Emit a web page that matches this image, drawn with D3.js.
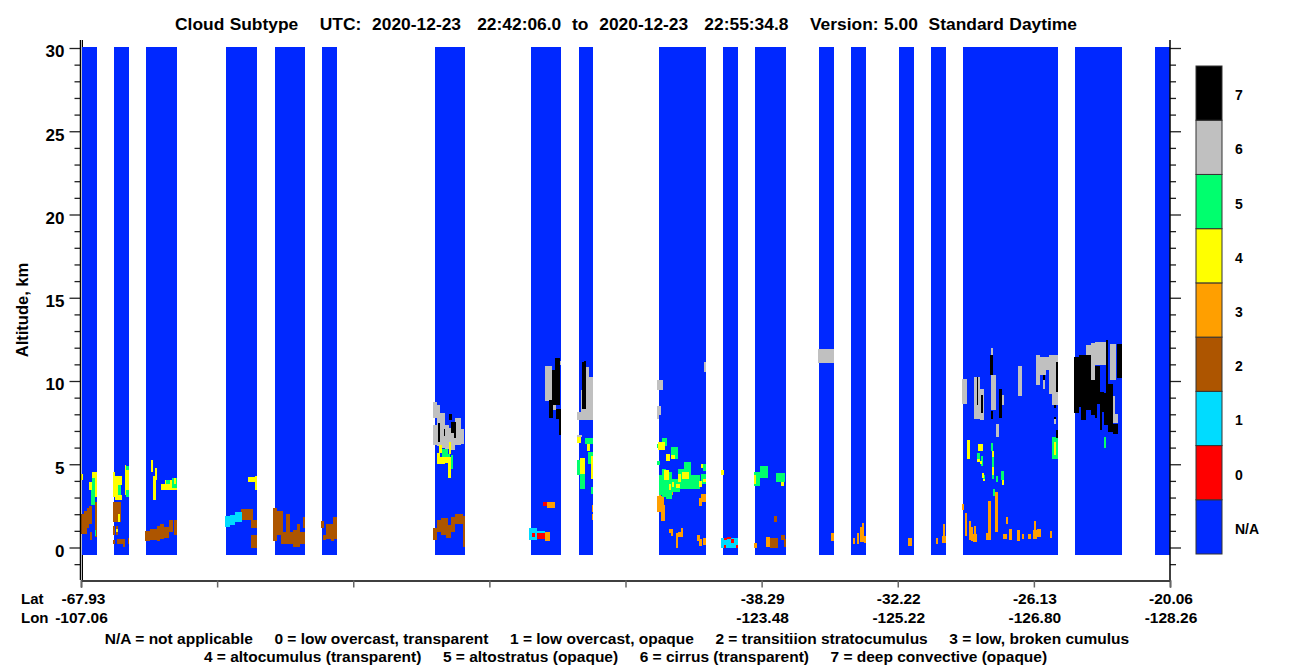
<!DOCTYPE html>
<html>
<head>
<meta charset="utf-8">
<script src="https://cdn.jsdelivr.net/npm/d3@7"></script>
<style>
  html, body { margin: 0; padding: 0; background: #fff; }
  svg { display: block; }
  text { font-family: "Liberation Sans", Arial, sans-serif; font-weight: bold; fill: #000; white-space: pre; }
</style>
</head>
<body>
<svg id="chart" width="1300" height="667"></svg>
<script>
// Title and footnotes
const titleText = "Cloud Subtype    UTC:  2020-12-23   22:42:06.0  to  2020-12-23   22:55:34.8    Version: 5.00  Standard Daytime";
const noteLine1 = "N/A = not applicable     0 = low overcast, transparent     1 = low overcast, opaque     2 = transitiion stratocumulus     3 = low, broken cumulus";
const noteLine2 = "4 = altocumulus (transparent)     5 = altostratus (opaque)     6 = cirrus (transparent)     7 = deep convective (opaque)";

// Bottom axis labels, one per tick (blank where the plot has none)
const latLabels = ["-67.93", "", "", "", "", "-38.29", "-32.22", "-26.13", "-20.06"];
const lonLabels = ["-107.06", "", "", "", "", "-123.48", "-125.22", "-126.80", "-128.26"];

// Legend, bottom to top
const legendLabels = ["N/A", "0", "1", "2", "3", "4", "5", "6", "7"];
const legendColors = ["#0028ff", "#ff0000", "#00dcff", "#ad5500", "#ff9f00", "#ffff00", "#00ff6e", "#c0c0c0", "#000000"];

// Profile ranges that have data, [start, end]
const swaths = [[1,16],[33,48],[65,96],[145,176],[194,224],[241,256],[354,384],[450,480],[498,512],
  [578,625],[642,657],[674,705],[738,753],[770,785],[818,833],[850,865],[882,977],[994,1041],[1074,1089]];

// Cloud cells per subtype: [profile start, profile end, altitude low km, altitude high km]
const subtype2 = [[0,3,.84,2.04],[3,6,.84,2.2],[6,8,1.2,2.36],[8,10.7,1.44,2.48],[9,11,.48,.94],[14,16,.64,2.74],
  [32.3,40,1.54,2.72],[32,34,.74,1.28],[35,37,.74,1.28],[32,34,.2,.44],[36,44.3,.24,.52],[42,44,.04,.24],[47,48,.24,.56],
  [64,69,.38,1.02],[69,75.7,.44,1.14],[75.7,79,.38,1.28],[79,83,.54,1.4],[83,88,.6,1.24],[88,92,.94,1.68],[93,96,.74,1.68],
  [160,172,1.64,2.34],[170,176,1.16,1.64],[170,176,-.04,.74],
  [192,196,.38,2.36],[196,202,.74,2.18],[200,224,.24,.92],[205,209,.24,2],[212,219,.04,1.04],[216,219,.94,1.44],[222,224,1.16,1.82],
  [240,243,1.16,1.58],[245,256,.54,1.44],[252,256,1.34,1.82],[242,245,.44,.74],[250,253,.38,.64],
  [352,356,.48,1.16],[356,360,.94,1.64],[360,367,.74,1.76],[365,370,.56,1.34],[370,374,.94,1.84],[374,382,1.44,2.0],[382,384,.04,1.9],
  [693,696,1.52,1.88],[689,697,-.02,.56],[700,704,.44,.74],[703,705,.02,.5]];

const subtype3 = [[466,474,2.38,2.72],[464,469,.38,.94],[511,512,2.14,2.54],[511,512,1.64,2.04],
  [588,592,3.14,3.4],[576,583,2.12,3.12],[580,584,1.58,2.54],[578,580,3.04,3.32],
  [588,592,.86,1.1],[590,592,.68,.86],[595,597,-.02,.86],[597,602,.64,.94],[600,602,.94,1.18],
  [616,619,.38,.74],[618,621,.08,.5],[622,625,.14,.56],[618,621,2.48,3],[620,625,2.74,3.2],
  [673,676,-.02,.26],[685,689,.02,.62],[750,753,.38,.86],
  [772,774,.2,.56],[776,778,.2,.86],[779,783,.32,1.24],[781,783,1.24,1.46],[783,785,.26,.68],
  [827,831,.09,.57],[855,857,.21,.57],[862,864,.45,1.41],[861,865,.27,.69],
  [881,883,2.24,2.6],[884,886,.68,2.06],[888,890,.44,1.58],[890,892,.4,1.24],[892,896,.32,.8],[893,895,.8,1.28],
  [905,910,.44,.86],[907,910,.86,2.78],[914,917,.94,3.32],[925,927,1.4,1.82],[922,926,.5,.8],[928,931,.44,1.1],
  [936,939,.38,1.04],[941,943,.5,.8],[947,950,.5,.8],[952,956,.5,1.04],[953,955,1.04,1.58],[956,960,.62,1.1],[969,971,.56,.98]];

const subtype1 = [[144,149,1.22,1.88],[149,154,1.34,1.94],[154,160.7,1.54,2.14],
  [448,456,.48,1.16],[456,464,.9,1.0],[640,657,0,.56]];

const subtype0 = [[462,466,2.5,2.72],[456,464,.5,.9],[451,454,.65,.85],[643,646,.46,.56],[650,653,.26,.5],[643,645,0,.14],[655,657,0,.14],[646,650,.5,.62]];

const subtype5 = [[14,15,.68,1.08],[9.7,14,2.54,3.44],[11,16,3.44,4.2],
  [37,40,3.14,3.74],[45,48,4.64,4.88],[45,48,3.04,3.48],[85,89,3.74,4.04],[91,96,3.6,4.16],
  [361,367,5.44,5.94],[359,363,5.24,5.44],[370,372,4.7,5.55],[365,369,5.44,5.64],
  [504,512,6.2,6.6],[507,512,5.04,5.74],[496,499,4.34,5.24],[499,504.3,3.5,4.44],[510,512,3.24,3.64],
  [581,586,6.08,6.6],[576,578,5.96,6.2],[590,597,5.3,6.02],[576,579,4.94,5.18],
  [578,581,3.14,4.34],[581,585,3.04,4.74],[585,591,2.94,4.54],[591,599,3.34,4.14],[597,603,3.54,4.74],
  [603,610,3.54,5.12],[610,619,3.54,4.34],[620,625,3.84,4.44],[622,625,4.6,5.04],
  [673,679,3.68,4.52],[679,687,4.16,4.88],[695,704,3.94,4.46],
  [971,977,5.34,6.62],[896,899,5.12,5.7],[900,902,4.88,5.48],[910,912,5.78,6.26],[911,913,4.82,5.42],[911,913,4.1,4.34],
  [915,917,3.92,4.28],[920,923,4.04,4.58],[902,904,4.1,4.36],[912,914,3.08,3.5],[1023,1025,5.96,6.62]];

const subtype4 = [[0,2,4.08,4.4],[8,11.3,3.44,3.94],[11,16,4.2,4.52],[14,16,3.04,4.2],
  [32,34,3.04,4.52],[34,37,2.84,4.28],[37,41,3.74,4.28],[37,41,2.84,3.14],[37,39,1.54,2.04],[35,37,.94,1.14],
  [44,45,3.14,4.94],[45,48,3.48,4.64],
  [70,72,4.52,5.24],[74,76,4.04,4.76],[72,74.7,2.84,4.28],[80,96,3.44,3.6],[80,91,3.6,3.84],[84,85,3.84,4.04],[89,91,3.84,4.04],[93,95,3.84,4.16],
  [167,174,3.94,4.22],[174,176,3.48,4.28],
  [356,364,5,5.44],[358,361,5.65,6.15],[356,359,5.44,5.65],[364,370,5.05,5.44],[368,370,5.6,6.34],[367,370,4.15,5.05],
  [496,500,6.26,6.62],[506,509,5.78,6.2],[499,504,4.44,5.36],[510,512,4.14,5.48],
  [577,584,5.84,6.32],[590,594,5.3,5.54],[585,589,5.18,5.6],[583,588,4.04,4.64],[588,590,3.44,3.84],[591,593,3.64,3.94],
  [595,599,3.6,3.84],[597,600,3.94,4.44],[601,608,4.14,4.54],[618,621,3.64,4],[622,625,3.94,4.14],[620,622,4.8,5.04],
  [640,643,4.34,4.64],[673,675,3.8,4.34],[700,703,3.68,3.94],
  [973,975,5.54,6.34],[886,889,5.3,6.44],[897,902,5.78,6.2],[896,899,5.12,5.34],[899,901,5,5.2],
  [911,913,5.42,5.78],[911,913,4.34,4.82],[921,923,3.74,4.04],[901,903,4.16,4.46],[902,904,3.98,4.1]];

const subtype6 = [[352,356,7.75,8.75],[352,356,6.15,7.35],[356,359,6.1,8.55],[359,364,5.95,8.05],[364,368,5.9,7.35],[368,374,5.85,7.15],[374,380,6.15,7.8],[380,383,6.2,7.1],
  [464,471,8.78,10.88],[478,480,10.94,11.2],[471,475,8.24,8.54],
  [505,512,8.14,10.24],[505,508,10.24,10.84],[500,505,8.14,9.48],[496,512,7.64,8.14],[496,501,6.62,6.74],
  [576,582,9.44,10.04],[576,580,7.94,8.48],[576,578,7.7,7.94],[623,625,10.52,11.12],[737,753,11.06,11.9],
  [881,886,8.64,10.14],[893,899,7.74,10.24],[899,903,7.64,9.54],[910,915,8.24,10.38],[910,912,11.54,11.96],[921,923,8.58,9.14],
  [937,941,9.08,10.88],[955,959,9.74,11.54],[959,965,10.34,11.44],[962,964,9.5,10.34],[965,969,10.64,11.44],
  [968,977,9.24,11.54],[971,977,8.54,9.24],[973,975,7.4,7.7],[915,918,6.64,7.4],
  [1005,1010,11.54,12.14],[1010,1014,10.04,12.3],[1014,1025,10.94,12.34],[1029,1035,10.04,12.24],[1032,1034,7.5,9.1],[1034,1037,7.5,8]];

const subtype7 = [[368,371,7.64,8.0],[370,375,6.9,7.55],[373,375,6.6,6.9],[357,359,6.35,7.45],[363,364,6.7,7.1],
  [474,479,10.64,11.36],[471,479,8.54,10.64],[468,472,7.8,8.84],[475,480,7.74,8.34],[478,480,6.74,7.74],
  [501,505,8.3,11.12],[503,505,10.84,11.2],
  [896,897.3,8.54,10.24],[900,902,8.1,9.14],[909,912,10.34,11.54],[910,912,7.74,8.18],[918,921,7.78,9.5],
  [962,964,10.04,10.34],[975,977,9.34,11.14],[973,975,8.4,8.54],[973,975,7.7,7.82],[975,977,6.56,7.04],
  [993,998,8.1,11.44],[998,1000,8.45,11.54],[1000,1005,7.64,11.54],[1005,1010,8.24,11.54],[1010,1014,7.95,10.04],[1014,1016,7.75,10.9],[1016,1019,8.6,10.9],
  [1019,1021,7.04,9.34],[1021,1023,8.15,9.34],[1025,1027,7.34,12.44],[1023,1025,7.34,9.3],[1027,1032,6.94,9.84],[1032,1037,6.8,7.44],[1036,1041,10.2,12.24]];

// Cloud layers in drawing order, index into legendColors
const cloudLayers = [[3, subtype2], [4, subtype3], [2, subtype1], [1, subtype0], [7, subtype6], [6, subtype5], [5, subtype4], [8, subtype7]];

const margin = {top: 40, right: 130, bottom: 87, left: 81};

const svg = d3.select("#chart");
const plot = svg.append("g").attr("transform", `translate(${margin.left},${margin.top})`);

const x = d3.scaleLinear().domain([0, 1089]).range([0, 1089]);
const xTick = d3.scaleLinear().domain([0, 8]).range([0, 1089]);
const y = d3.scaleLinear().domain([30, 0]).range([8, 507.5]);

// Second y axis line, mostly hidden by the swaths
plot.append("line").attr("x1", 1.5).attr("x2", 1.5).attr("y1", 0).attr("y2", 540).attr("stroke", "#000");

function drawCells(data, color) {
  plot.append("g").attr("shape-rendering", "crispEdges")
    .selectAll("rect").data(data).join("rect")
    .attr("x", d => x(d[0]))
    .attr("width", d => x(d[1]) - x(d[0]))
    .attr("y", d => y(d[3]))
    .attr("height", d => y(d[2]) - y(d[3]))
    .attr("fill", color);
}

drawCells(swaths.map(s => [s[0], s[1], -.47, 30.06]), legendColors[0]);
cloudLayers.forEach(([c, cells]) => drawCells(cells, legendColors[c]));

// Axes
function tickStyle(g) {
  g.select(".domain").remove();
  g.selectAll(".tick line").attr("stroke", "#222").attr("stroke-width", 1.3);
}

const yMajor = d3.range(0, 31, 5);
const yMinor = d3.range(-1, 31).filter(d => d % 5 !== 0);

[[d3.axisLeft, -0.5], [d3.axisRight, 1089]].forEach(([axis, pos]) => {
  const side = plot.append("g").attr("transform", `translate(${pos},0)`);
  side.append("g").call(axis(y).tickValues(yMinor).tickSize(6).tickFormat("")).call(tickStyle);
  side.append("g").attr("class", "major").call(axis(y).tickValues(yMajor).tickSize(11).tickPadding(5)
      .tickFormat(pos < 0 ? d3.format("d") : "")).call(tickStyle);
  side.append("line").attr("y1", 0).attr("y2", 540).attr("stroke", "#000").attr("stroke-width", 1.5);
});
plot.selectAll(".major text").attr("font-size", 17).attr("dy", "0.52em");

const bottom = plot.append("g").attr("transform", "translate(0,540.5)")
  .call(d3.axisBottom(xTick).ticks(8).tickSize(7).tickFormat(""));
bottom.select(".domain").attr("stroke", "#000").attr("stroke-width", 1.5);
bottom.selectAll(".tick line").attr("stroke", "#666").attr("stroke-width", 1.5);

svg.append("text").attr("x", 175).attr("y", 30).attr("font-size", 17.4).attr("word-spacing", 0.55).text(titleText);

svg.append("text").attr("transform", "translate(28,310) rotate(-90)")
  .attr("text-anchor", "middle").attr("font-size", 16.5).text("Altitude, km");

// Lat / Lon rows
[[604, "Lat", latLabels], [623, "Lon", lonLabels]].forEach(([row, name, labels]) => {
  svg.append("text").attr("x", 21).attr("y", row).attr("font-size", 15).text(name);
  svg.append("g").selectAll("text").data(labels).join("text")
    .attr("x", (d, i) => margin.left + xTick(i) + (i === 0 ? 2.5 - (name === "Lon" ? 2 : 0) : 1))
    .attr("y", row).attr("font-size", 15.5).attr("text-anchor", "middle").text(d => d);
});

svg.append("text").attr("x", 617).attr("y", 644).attr("font-size", 15.5).attr("text-anchor", "middle").text(noteLine1);
svg.append("text").attr("x", 625.5).attr("y", 662).attr("font-size", 15.5).attr("text-anchor", "middle").text(noteLine2);

// Colour legend
const legendY = d3.scaleBand().domain(legendLabels).range([554, 66]);
const legend = svg.append("g");
legend.selectAll("rect").data(legendLabels).join("rect")
  .attr("x", 1196).attr("width", 26)
  .attr("y", d => legendY(d)).attr("height", legendY.bandwidth())
  .attr("fill", (d, i) => legendColors[i])
  .attr("stroke", "#333").attr("stroke-width", 1);
legend.selectAll("text").data(legendLabels).join("text")
  .attr("x", 1235).attr("y", d => legendY(d) + legendY.bandwidth() / 2 + 7)
  .attr("font-size", 14).text(d => d);
</script>
</body>
</html>
